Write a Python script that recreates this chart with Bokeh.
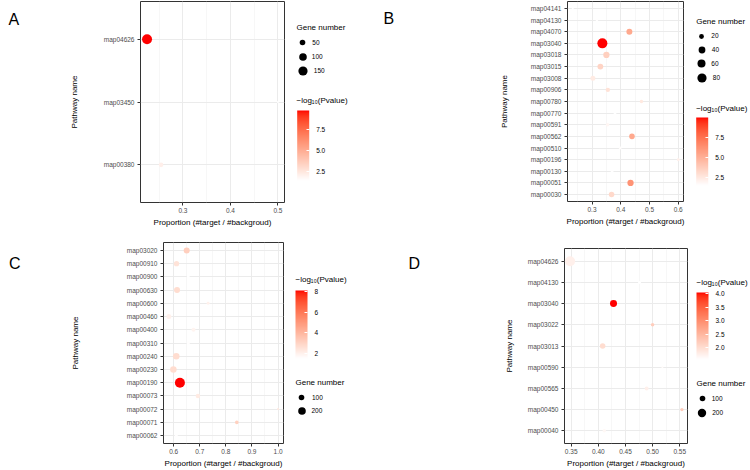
import numpy as np
from bokeh.plotting import figure
from bokeh.layouts import column, row
from bokeh.models import (ColumnDataSource, Range1d, FactorRange, FixedTicker,
                          PrintfTickFormatter, LinearColorMapper, ColorBar, Legend,
                          LegendItem, Label)
from bokeh.transform import transform
from bokeh.embed import file_html
from bokeh.resources import INLINE

# ---------------- data ----------------
# Panel A
a_pathways = ["map00380", "map03450", "map04626"]
a_proportion = [0.254, 0.500, 0.2245]
a_genes = [35, 5, 180]
a_logp = [2.1, 1.4, 9.8]
a_x_ticks = [0.3, 0.4, 0.5]
a_x_minor = [0.25, 0.35, 0.45]
a_size_breaks = [50, 100, 150]
a_color_ticks = [2.5, 5.0, 7.5]

# Panel B
b_pathways = ["map00030", "map00051", "map00130", "map00196", "map00510", "map00562",
              "map00591", "map00770", "map00780", "map00906", "map03008", "map03015",
              "map03018", "map03040", "map04070", "map04130", "map04141"]
b_proportion = [0.368, 0.434, 0.370, 0.600, 0.398, 0.439, 0.354, 0.380, 0.472, 0.355,
                0.303, 0.329, 0.350, 0.336, 0.430, 0.317, 0.233]
b_genes = [27, 35, 5, 7, 7, 27, 10, 5, 10, 17, 22, 30, 35, 92, 32, 5, 3]
b_logp = [3.2, 6.2, 1.55, 2.2, 1.6, 5.3, 1.9, 1.5, 2.5, 2.8, 2.4, 3.4, 3.6, 10.0, 5.3, 1.55, 1.5]
b_x_ticks = [0.3, 0.4, 0.5, 0.6]
b_x_minor = [0.25, 0.35, 0.45, 0.55]
b_size_breaks = [20, 40, 60, 80]
b_color_ticks = [2.5, 5.0, 7.5]

# Panel C
c_pathways = ["map00062", "map00071", "map00072", "map00073", "map00190", "map00230",
              "map00240", "map00310", "map00400", "map00460", "map00600", "map00630",
              "map00900", "map00910", "map03020"]
c_proportion = [0.610, 0.842, 1.000, 0.693, 0.624, 0.599, 0.610, 0.656, 0.676, 0.582,
                0.732, 0.613, 0.656, 0.611, 0.650]
c_genes = [20, 35, 6, 58, 360, 138, 138, 26, 43, 75, 20, 115, 20, 86, 115]
c_logp = [1.55, 3.1, 2.3, 2.2, 8.1, 2.7, 2.7, 1.55, 1.9, 2.0, 2.0, 2.7, 1.5, 2.5, 3.15]
c_x_ticks = [0.6, 0.7, 0.8, 0.9, 1.0]
c_x_minor = [0.65, 0.75, 0.85, 0.95]
c_size_breaks = [100, 200]
c_color_ticks = [2, 4, 6, 8]

# Panel D
d_pathways = ["map00040", "map00450", "map00565", "map00590", "map03013", "map03022",
              "map03040", "map04130", "map04626"]
d_proportion = [0.411, 0.554, 0.489, 0.518, 0.408, 0.500, 0.428, 0.476, 0.348]
d_genes = [42, 38, 53, 17, 94, 42, 146, 33, 284]
d_logp = [1.65, 2.2, 1.75, 1.6, 2.0, 2.2, 4.05, 1.55, 1.75]
d_x_ticks = [0.35, 0.40, 0.45, 0.50, 0.55]
d_x_minor = [0.375, 0.425, 0.475, 0.525]
d_size_breaks = [100, 200]
d_color_ticks = [2.0, 2.5, 3.0, 3.5, 4.0]

# ---------------- styling helpers ----------------
FONT = "Liberation Sans"
W, H = 375, 235      # one panel
LW = 50              # strip holding the panel letter


def _lab(rgb):
    def lin(c):
        c = c / 255
        return c / 12.92 if c <= 0.04045 else ((c + 0.055) / 1.055) ** 2.4
    r, g, b = (lin(c) for c in rgb)
    X = (0.4124 * r + 0.3576 * g + 0.1805 * b) / 0.95047
    Y = 0.2126 * r + 0.7152 * g + 0.0722 * b
    Z = (0.0193 * r + 0.1192 * g + 0.9505 * b) / 1.08883
    f = lambda t: t ** (1 / 3) if t > 0.008856 else 7.787 * t + 16 / 116
    fx, fy, fz = f(X), f(Y), f(Z)
    return 116 * fy - 16, 500 * (fx - fy), 200 * (fy - fz)


def _hex(lab):
    L, a, b = lab
    fy = (L + 16) / 116
    fx, fz = fy + a / 500, fy - b / 200
    finv = lambda t: t ** 3 if t ** 3 > 0.008856 else (t - 16 / 116) / 7.787
    X, Y, Z = finv(fx) * 0.95047, finv(fy), finv(fz) * 1.08883
    rgb = (3.2406 * X - 1.5372 * Y - 0.4986 * Z,
           -0.9689 * X + 1.8758 * Y + 0.0415 * Z,
           0.0557 * X - 0.2040 * Y + 1.0570 * Z)

    def gam(c):
        c = min(max(c, 0.0), 1.0)
        return 12.92 * c if c <= 0.0031308 else 1.055 * c ** (1 / 2.4) - 0.055
    return "#%02x%02x%02x" % tuple(int(round(gam(c) * 255)) for c in rgb)


# white -> red ramp interpolated in CIELAB
_w, _r = _lab((255, 255, 255)), _lab((255, 0, 0))
RAMP = [_hex(tuple(w + (r - w) * t for w, r in zip(_w, _r))) for t in np.linspace(0, 1, 256)]


def diameter(n, lo, hi, dmin=2.0, dmax=10.0):
    """Area-proportional point diameter in pixels."""
    return dmin + (dmax - dmin) * (np.sqrt(n) - np.sqrt(lo)) / (np.sqrt(hi) - np.sqrt(lo))


def blank(width):
    f = figure(width=width, height=H, output_backend="svg", toolbar_location=None,
               x_axis_type=None, y_axis_type=None, x_range=Range1d(0, 1), y_range=Range1d(0, 1),
               min_border_left=0, min_border_right=0, min_border_top=0, min_border_bottom=0,
               frame_align=False)
    f.outline_line_color = None
    f.background_fill_color = "white"
    f.border_fill_color = "white"
    f.xgrid.visible = False
    f.ygrid.visible = False
    return f


def text(fig, x, y, s, size="8px", align="left"):
    fig.add_layout(Label(x=x, y=H - y, x_units="screen", y_units="screen", text=s,
                         text_font=FONT, text_font_size=size, text_align=align,
                         text_baseline="middle", text_color="black"))


def build_panel(letter, pathways, proportion, genes, logp, x_ticks, x_minor, x_fmt,
                size_breaks, color_ticks, color_fmt, lay):
    lo_n, hi_n = min(genes), max(genes)
    xmin, xmax = min(proportion), max(proportion)
    pad = 0.05 * (xmax - xmin)
    mapper = LinearColorMapper(palette=RAMP, low=min(logp), high=max(logp))
    src = ColumnDataSource(dict(pathway=pathways, proportion=proportion, genes=genes,
                                logp=logp, diam=diameter(np.array(genes, float), lo_n, hi_n)))

    # letter strip
    lf = blank(LW)
    text(lf, lay["letter"][0], lay["letter"][1], letter, size="16px", align="center")

    # main dot plot
    mw = lay["frame_right"] + 2 - LW
    p = figure(width=mw, height=H, output_backend="svg", toolbar_location=None,
               x_range=Range1d(xmin - pad, xmax + pad),
               y_range=FactorRange(factors=pathways, range_padding=0.1,
                                   range_padding_units="absolute"),
               min_border_left=lay["left"] - LW, min_border_right=2,
               min_border_top=lay["top"], min_border_bottom=lay["bottom"],
               frame_align=False)
    p.background_fill_color = "white"
    p.border_fill_color = "white"
    p.outline_line_color = "#333333"
    p.outline_line_width = 1

    p.scatter(x="proportion", y="pathway", size="diam", source=src, marker="circle",
              fill_color=transform("logp", mapper), line_color=None)

    p.xaxis.ticker = FixedTicker(ticks=x_ticks, minor_ticks=x_minor)
    p.xaxis.formatter = PrintfTickFormatter(format=x_fmt)
    p.xaxis.axis_label = "Proportion (#target / #backgroud)"
    p.yaxis.axis_label = "Pathway name"
    for ax in (p.xaxis[0], p.yaxis[0]):
        ax.axis_line_color = None
        ax.major_tick_line_color = "#333333"
        ax.major_tick_out = 3
        ax.major_tick_in = 0
        ax.minor_tick_line_color = None
        ax.major_label_text_font = FONT
        ax.major_label_text_font_size = "6.5px"
        ax.major_label_text_color = "#4D4D4D"
        ax.axis_label_text_font = FONT
        ax.axis_label_text_font_size = "8px"
        ax.axis_label_text_font_style = "normal"
        ax.axis_label_text_color = "black"
    p.xaxis.major_label_standoff = 1
    p.xaxis.axis_label_standoff = 2
    p.yaxis.major_label_standoff = 3
    p.yaxis.axis_label_standoff = lay["ystand"]

    p.xgrid.grid_line_color = "#EBEBEB"
    p.xgrid.grid_line_width = 1
    p.xgrid.minor_grid_line_color = "#F1F1F1"
    p.xgrid.minor_grid_line_width = 0.6
    p.ygrid.grid_line_color = "#EBEBEB"
    p.ygrid.grid_line_width = 1

    # keys strip (coordinates below are panel-local, shifted into the strip)
    off = LW + mw
    kf = blank(W - off)

    tx, ty = lay["size_title"]
    text(kf, tx - off, ty, "Gene number")
    cx, lab_x = lay["size_cx"], lay["size_label_x"]
    for n, cy in zip(size_breaks, lay["size_rows"]):
        d = float(diameter(n, lo_n, hi_n))
        g = int(round(d / 0.4))
        # key-only renderer: a single undrawn (NaN) point that carries the marker style
        r = kf.scatter(x=[float("nan")], y=[float("nan")], size=d, marker="circle",
                       fill_color="black", line_color=None)
        kf.add_layout(Legend(items=[LegendItem(label=str(n), renderers=[r])],
                             location=(cx - off - g / 2, H - cy - g / 2),
                             glyph_width=g, glyph_height=g,
                             label_standoff=int(round(lab_x - cx - g / 2)),
                             label_width=0, label_height=0, padding=0, margin=0, spacing=0,
                             border_line_color=None, background_fill_alpha=0,
                             label_text_font=FONT, label_text_font_size="6.5px",
                             label_text_color="black"))

    ctx_, cty = lay["cbar_title"]
    text(kf, ctx_ - off, cty, "\u2212log\u2081\u2080(Pvalue)")
    bl, bt, bb = lay["bar"]
    kf.add_layout(ColorBar(color_mapper=mapper, location=(bl - off, H - bb), width=12,
                           height=int(round(bb - bt)), padding=0, margin=0,
                           ticker=FixedTicker(ticks=color_ticks),
                           formatter=PrintfTickFormatter(format=color_fmt),
                           major_label_text_font=FONT, major_label_text_font_size="6.5px",
                           major_label_text_color="black",
                           major_tick_line_color="white", major_tick_in=3, major_tick_out=0,
                           minor_tick_line_color=None, bar_line_color=None,
                           border_line_color=None, background_fill_alpha=0, label_standoff=7))
    return row(lf, p, kf)


pa = build_panel("A", a_pathways, a_proportion, a_genes, a_logp, a_x_ticks, a_x_minor, "%.1f",
                 a_size_breaks, a_color_ticks, "%.1f",
                 dict(left=140, frame_right=284, top=1, bottom=33, ystand=22, letter=(13.3, 18.5),
                      size_title=(296, 26.7), size_cx=302.3, size_rows=[42, 56, 70],
                      size_label_x=312.3, cbar_title=(296, 100), bar=(296.7, 110, 180)))
pb = build_panel("B", b_pathways, b_proportion, b_genes, b_logp, b_x_ticks, b_x_minor, "%.1f",
                 b_size_breaks, b_color_ticks, "%.1f",
                 dict(left=192, frame_right=308, top=1, bottom=34, ystand=19, letter=(13.3, 18.3),
                      size_title=(320.7, 20.7), size_cx=326.3,
                      size_rows=[35.7, 49.3, 63.3, 77.3], size_label_x=336.7,
                      cbar_title=(320.7, 107.7), bar=(320.7, 116.7, 185)))
pc = build_panel("C", c_pathways, c_proportion, c_genes, c_logp, c_x_ticks, c_x_minor, "%.1f",
                 c_size_breaks, c_color_ticks, "%d",
                 dict(left=163, frame_right=283, top=7, bottom=24, ystand=44, letter=(14.2, 28.3),
                      size_title=(295, 146.7), size_cx=301, size_rows=[162.3, 175.7],
                      size_label_x=311.7, cbar_title=(295, 44.3), bar=(295, 55, 123)))
pd_ = build_panel("D", d_pathways, d_proportion, d_genes, d_logp, d_x_ticks, d_x_minor, "%.2f",
                  d_size_breaks, d_color_ticks, "%.1f",
                  dict(left=189, frame_right=312, top=13, bottom=23, ystand=11, letter=(38.8, 28.3),
                       size_title=(321, 147.7), size_cx=326.7, size_rows=[163.3, 177.3],
                       size_label_x=336.7, cbar_title=(321, 47.3), bar=(321, 56.7, 124)))

layout = column(row(pa, pb), row(pc, pd_))
open("out.html", "w").write(file_html(layout, INLINE))
